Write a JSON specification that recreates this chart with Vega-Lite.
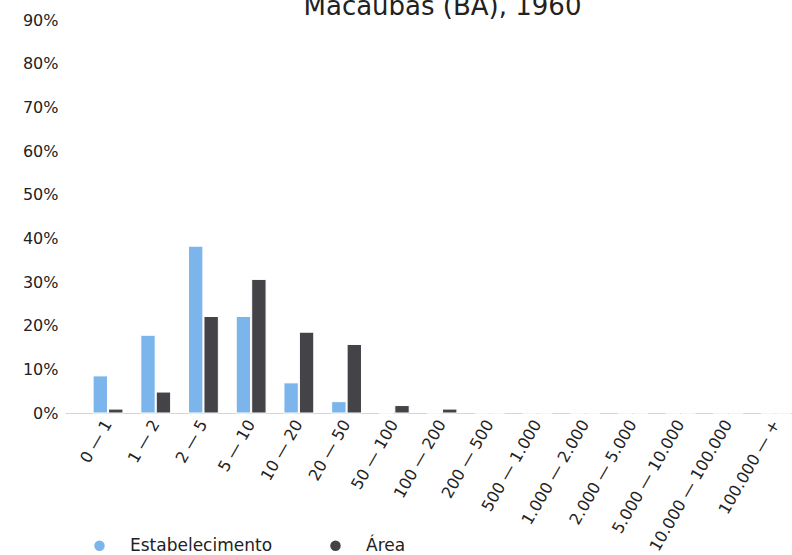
{
  "$schema": "https://vega.github.io/schema/vega-lite/v6.json",
  "autosize": {"type": "none"},
  "width": 727,
  "height": 393,
  "padding": {"left": 65, "top": 20, "right": 0, "bottom": 142},
  "background": "white",
  "config": {
    "font": "DejaVu Sans",
    "view": {"stroke": null}
  },
  "title": {
    "text": "Macaúbas (BA), 1960",
    "fontSize": 26,
    "fontWeight": "normal",
    "color": "#222222",
    "anchor": "middle",
    "frame": "group",
    "offset": 0,
    "dx": 14,
    "dy": 8
  },
  "data": {
    "values": [
      {"classe": "0 — 1", "serie": "Estabelecimento", "valor": 0.085},
      {"classe": "0 — 1", "serie": "Área", "valor": 0.009},
      {"classe": "1 — 2", "serie": "Estabelecimento", "valor": 0.178},
      {"classe": "1 — 2", "serie": "Área", "valor": 0.048},
      {"classe": "2 — 5", "serie": "Estabelecimento", "valor": 0.382},
      {"classe": "2 — 5", "serie": "Área", "valor": 0.221},
      {"classe": "5 — 10", "serie": "Estabelecimento", "valor": 0.221},
      {"classe": "5 — 10", "serie": "Área", "valor": 0.306},
      {"classe": "10 — 20", "serie": "Estabelecimento", "valor": 0.069},
      {"classe": "10 — 20", "serie": "Área", "valor": 0.185},
      {"classe": "20 — 50", "serie": "Estabelecimento", "valor": 0.026},
      {"classe": "20 — 50", "serie": "Área", "valor": 0.157},
      {"classe": "50 — 100", "serie": "Estabelecimento", "valor": 0.0},
      {"classe": "50 — 100", "serie": "Área", "valor": 0.017},
      {"classe": "100 — 200", "serie": "Estabelecimento", "valor": 0.0},
      {"classe": "100 — 200", "serie": "Área", "valor": 0.009},
      {"classe": "200 — 500", "serie": "Estabelecimento", "valor": 0.0},
      {"classe": "200 — 500", "serie": "Área", "valor": 0.0},
      {"classe": "500 — 1.000", "serie": "Estabelecimento", "valor": 0.0},
      {"classe": "500 — 1.000", "serie": "Área", "valor": 0.0},
      {"classe": "1.000 — 2.000", "serie": "Estabelecimento", "valor": 0.0},
      {"classe": "1.000 — 2.000", "serie": "Área", "valor": 0.0},
      {"classe": "2.000 — 5.000", "serie": "Estabelecimento", "valor": 0.0},
      {"classe": "2.000 — 5.000", "serie": "Área", "valor": 0.0},
      {"classe": "5.000 — 10.000", "serie": "Estabelecimento", "valor": 0.0},
      {"classe": "5.000 — 10.000", "serie": "Área", "valor": 0.0},
      {"classe": "10.000 — 100.000", "serie": "Estabelecimento", "valor": 0.0},
      {"classe": "10.000 — 100.000", "serie": "Área", "valor": 0.0},
      {"classe": "100.000 — +", "serie": "Estabelecimento", "valor": 0.0},
      {"classe": "100.000 — +", "serie": "Área", "valor": 0.0}
    ]
  },
  "mark": {"type": "bar", "stroke": "white", "strokeWidth": 1},
  "encoding": {
    "x": {
      "field": "classe",
      "type": "nominal",
      "sort": ["0 — 1", "1 — 2", "2 — 5", "5 — 10", "10 — 20", "20 — 50", "50 — 100", "100 — 200", "200 — 500", "500 — 1.000", "1.000 — 2.000", "2.000 — 5.000", "5.000 — 10.000", "10.000 — 100.000", "100.000 — +"],
      "scale": {"range": [0, 754], "paddingInner": 0.375, "paddingOuter": 0.589},
      "axis": {
        "title": null,
        "labelAngle": -60,
        "labelFontSize": 16,
        "labelColor": "#222222",
        "labelPadding": 8,
        "ticks": false,
        "domainColor": "#ccd6eb",
        "domainWidth": 1,
        "grid": false
      }
    },
    "xOffset": {
      "field": "serie",
      "type": "nominal",
      "sort": ["Estabelecimento", "Área"],
      "scale": {"paddingInner": 0.07}
    },
    "y": {
      "field": "valor",
      "type": "quantitative",
      "scale": {"domain": [0, 0.9], "nice": false},
      "axis": {
        "title": null,
        "format": ".0%",
        "values": [0, 0.1, 0.2, 0.3, 0.4, 0.5, 0.6, 0.7, 0.8, 0.9],
        "labelFontSize": 16,
        "labelColor": "#222222",
        "labelPadding": 7,
        "ticks": false,
        "domain": false,
        "grid": false
      }
    },
    "color": {
      "field": "serie",
      "type": "nominal",
      "sort": ["Estabelecimento", "Área"],
      "scale": {"domain": ["Estabelecimento", "Área"], "range": ["#7cb5ec", "#434348"]},
      "legend": {
        "title": null,
        "orient": "none",
        "legendX": 26,
        "legendY": 517,
        "direction": "horizontal",
        "symbolType": "circle",
        "symbolSize": 110,
        "symbolStrokeWidth": 0,
        "labelFontSize": 17,
        "labelColor": "#222222",
        "labelOffset": 22,
        "columnPadding": 54
      }
    }
  }
}
